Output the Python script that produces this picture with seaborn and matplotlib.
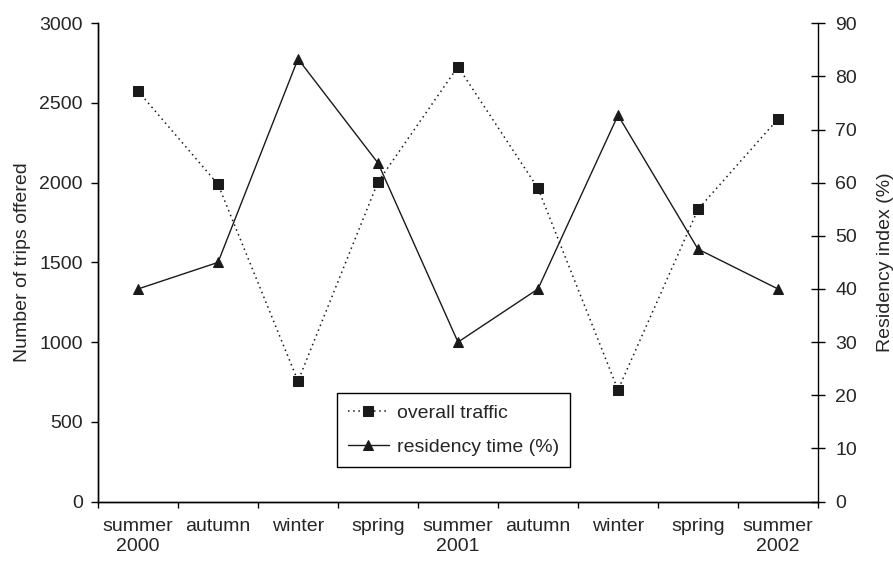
import numpy as np
import pandas as pd
import matplotlib
matplotlib.use("Agg")
import matplotlib.pyplot as plt
import seaborn as sns

seasons = ["summer\n2000", "autumn", "winter", "spring", "summer\n2001",
           "autumn", "winter", "spring", "summer\n2002"]
overall_traffic = [2575, 1990, 755, 2005, 2728, 1965, 700, 1833, 2400]
residency_time = [40, 45, 83.3, 63.7, 30, 40, 72.7, 47.5, 40]
left_ticks = [0, 500, 1000, 1500, 2000, 2500, 3000]
right_ticks = [0, 10, 20, 30, 40, 50, 60, 70, 80, 90]

sns.set_style("white")
plt.rcParams["font.family"] = ["Liberation Sans", "DejaVu Sans"]
plt.rcParams["font.size"] = 14

df = pd.DataFrame({"pos": np.arange(len(seasons)),
                   "traffic": overall_traffic,
                   "residency": residency_time})

fig = plt.figure(figsize=(8.93, 5.61), dpi=100)
ax = fig.add_axes([98 / 893, 1 - 501.5 / 561, 720 / 893, 478.2 / 561])
ax2 = ax.twinx()

ink = "#1a1a1a"
sns.lineplot(data=df, x="pos", y="traffic", ax=ax, color=ink,
             linestyle=(0, (1, 2.4)), linewidth=1.1, marker="s",
             markersize=7, markeredgecolor=ink, legend=False)
sns.lineplot(data=df, x="pos", y="residency", ax=ax2, color=ink,
             linestyle="-", linewidth=1.0, marker="^",
             markersize=7.5, markeredgecolor=ink, legend=False)

n = len(seasons)
ax.set_xlim(-0.5, n - 0.5)
ax.set_ylim(left_ticks[0], left_ticks[-1])
ax2.set_ylim(right_ticks[0], right_ticks[-1])
ax.set_yticks(left_ticks)
ax2.set_yticks(right_ticks)

ax.set_xticks(np.arange(-0.5, n, 1.0))
ax.set_xticklabels([])
ax.set_xticks(np.arange(n), minor=True)
ax.set_xticklabels(seasons, minor=True)

ax.tick_params(axis="x", which="major", direction="out", length=4.5,
               width=1, color="black", bottom=True)
ax.tick_params(axis="x", which="minor", length=0, pad=12, labelsize=14,
               bottom=True)
ax.tick_params(axis="y", direction="out", length=4.8, width=1,
               color="black", pad=6, labelsize=14, left=True)
ax2.tick_params(axis="y", direction="inout", length=10, width=1,
                color="black", pad=7.5, labelsize=14, right=True)

for a in (ax, ax2):
    a.grid(False)
    a.spines["top"].set_visible(False)
    for s in ("left", "right", "bottom"):
        a.spines[s].set_color("black")
        a.spines[s].set_linewidth(1.0)
ax.spines["right"].set_visible(False)

ax.set_xlabel("")
ax.set_ylabel("Number of trips offered", fontsize=14, labelpad=6)
ax2.set_ylabel("Residency index (%)", fontsize=14, labelpad=14)

handles = [ax.lines[0], ax2.lines[0]]
labels = ["overall traffic", "residency time (%)"]
leg = ax2.legend(handles, labels, loc="upper left",
                 bbox_to_anchor=(0.332, 0.226), frameon=True,
                 fancybox=False, edgecolor="black", numpoints=1,
                 handlelength=2.1, handletextpad=0.45, fontsize=14,
                 borderpad=0.55, labelspacing=0.85, borderaxespad=0)
leg.get_frame().set_linewidth(1.0)
leg.get_frame().set_facecolor("white")
leg.get_frame().set_alpha(1)

fig.savefig("out.png", dpi=100)
